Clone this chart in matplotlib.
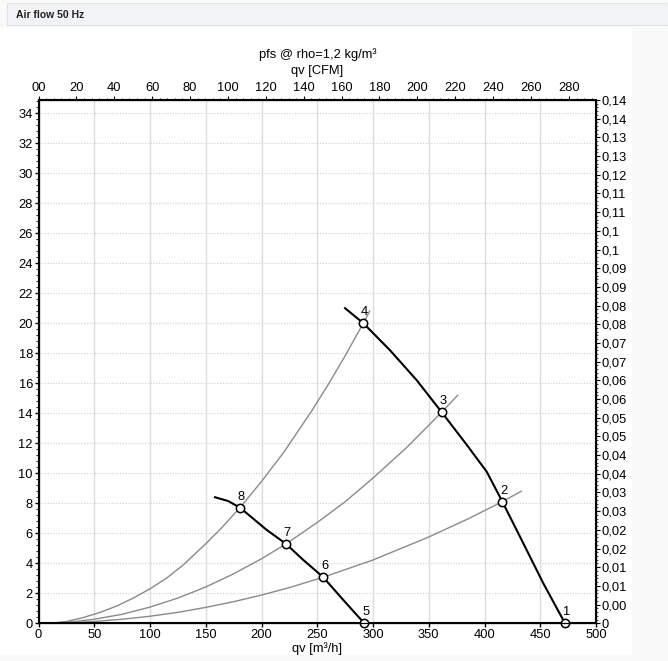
import matplotlib
matplotlib.use("Agg")
import matplotlib.pyplot as plt
from matplotlib.patches import Rectangle
from matplotlib.ticker import MultipleLocator, FixedLocator

plt.rcParams['font.family'] = ['Liberation Sans', 'DejaVu Sans']

# ---- data (qv in m3/h, pfs in Pa) ----
fan_high_x = [274.9, 291.3, 315.2, 339.2, 361.6, 384.0, 402.0, 416.0, 434.8, 452.7, 472.2]
fan_high_y = [21.0, 20.0, 18.2, 16.2, 14.07, 11.9, 10.1, 8.11, 5.33, 2.67, 0.0]
fan_low_x = [158.3, 170.0, 180.7, 204.7, 222.0, 237.5, 255.4, 273.4, 292.2]
fan_low_y = [8.4, 8.15, 7.71, 6.22, 5.29, 4.22, 3.07, 1.55, 0.0]

sys_a_x = [10, 25, 40, 55, 70, 85, 100, 115, 130, 150, 165, 180.7, 200, 220, 245, 260, 275, 291.3, 297]
sys_a_y = [0.0, 0.12, 0.38, 0.72, 1.15, 1.68, 2.3, 3.02, 3.9, 5.3, 6.42, 7.71, 9.45, 11.4, 14.15, 15.93, 17.82, 20.0, 20.8]
sys_b_x = [10, 30, 50, 75, 100, 125, 150, 175, 200, 222, 250, 275, 300, 330, 361.6, 376]
sys_b_y = [0.0, 0.1, 0.27, 0.6, 1.08, 1.68, 2.42, 3.3, 4.3, 5.29, 6.72, 8.1, 9.68, 11.7, 14.07, 15.2]
sys_c_x = [10, 30, 50, 75, 100, 125, 150, 175, 200, 225, 255.4, 300, 350, 385, 416, 433]
sys_c_y = [0.0, 0.05, 0.12, 0.27, 0.47, 0.73, 1.06, 1.44, 1.88, 2.38, 3.07, 4.22, 5.75, 6.95, 8.11, 8.8]

pt_labels = ['1', '2', '3', '4', '5', '6', '7', '8']
pt_x = [472.2, 416.0, 361.6, 291.3, 292.2, 255.4, 222.0, 180.7]
pt_y = [0.0, 8.11, 14.07, 20.0, 0.0, 3.07, 5.29, 7.71]

x_ticks = [0, 50, 100, 150, 200, 250, 300, 350, 400, 450, 500]
y_ticks = [0, 2, 4, 6, 8, 10, 12, 14, 16, 18, 20, 22, 24, 26, 28, 30, 32, 34]
cfm_ticks = [0, 20, 40, 60, 80, 100, 120, 140, 160, 180, 200, 220, 240, 260, 280]
cfm_labels = ['00', '20', '40', '60', '80', '100', '120', '140', '160', '180', '200',
              '220', '240', '260', '280']
inwg_labels = ['0', '0,00', '0,01', '0,01', '0,02', '0,02', '0,03', '0,03', '0,04', '0,04',
               '0,05', '0,05', '0,06', '0,06', '0,07', '0,07', '0,08', '0,08', '0,09', '0,09',
               '0,1', '0,1', '0,11', '0,11', '0,12', '0,13', '0,13', '0,14', '0,14']

M3H_PER_CFM = 1.699
PA_PER_INWG = 249.089
FS = 9.3

W, H = 668, 661
fig = plt.figure(figsize=(W / 100, H / 100), dpi=100)
fig.patch.set_facecolor('#f9f9f9')
fig.add_artist(Rectangle((0, 1 - 655 / H), 632 / W, (655 - 27) / H, transform=fig.transFigure,
                         facecolor='white', edgecolor='none', zorder=0))
fig.add_artist(Rectangle((7 / W, 1 - 25 / H), 1, 22 / H, transform=fig.transFigure,
                         facecolor='#f2f3f5', edgecolor='#c8c8c8', linestyle=(0, (1, 1)),
                         linewidth=0.6, zorder=1))
fig.text(16 / W, 1 - 15 / H, 'Air flow 50 Hz', fontsize=7.5, fontweight='bold',
         va='center', ha='left', color='#222222')

ax = fig.add_axes([38.5 / W, 1 - 623.3 / H, (596 - 38.5) / W, (623.3 - 100) / H])
ax.set_facecolor('white')
ymax = 0.14 * PA_PER_INWG
ax.set_xlim(0, 500)
ax.set_ylim(0, ymax)

for xv in x_ticks[1:-1]:
    ax.axvline(xv, color='#dcdcdc', lw=1.0, zorder=1)
for yv in y_ticks[1:]:
    ax.axhline(yv, color='#cfcfcf', lw=0.8, ls=(0, (1, 1.5)), zorder=1)

for sx, sy in [(sys_a_x, sys_a_y), (sys_b_x, sys_b_y), (sys_c_x, sys_c_y)]:
    ax.plot(sx, sy, color='#8a8a8a', lw=1.0, zorder=2, clip_on=False)
ax.plot(fan_high_x, fan_high_y, color='black', lw=1.5, zorder=3)
ax.plot(fan_low_x, fan_low_y, color='black', lw=1.5, zorder=3)
ax.plot(pt_x, pt_y, 'o', ms=6, mfc='white', mec='black', mew=1.1, zorder=4, clip_on=False)
for lab, px, py in zip(pt_labels, pt_x, pt_y):
    ax.annotate(lab, (px, py), xytext=(1, 3.5), textcoords='offset points', ha='center',
                va='bottom', fontsize=FS, zorder=5)

ax.set_xticks(x_ticks)
ax.set_yticks(y_ticks)
ax.yaxis.set_minor_locator(MultipleLocator(0.4))
ax.tick_params(axis='both', which='major', labelsize=FS, length=3, width=1, pad=1)
ax.tick_params(axis='y', which='minor', length=2, width=0.6)
ax.set_xlabel('qv [m³/h]', fontsize=FS, labelpad=1)
for s in ax.spines.values():
    s.set_linewidth(1.5)

axt = ax.twiny()
axt.set_xlim(0, 500 / M3H_PER_CFM)
axt.set_xticks(cfm_ticks)
axt.set_xticklabels(cfm_labels)
axt.xaxis.set_minor_locator(MultipleLocator(4))
axt.tick_params(axis='x', which='major', labelsize=FS, length=3, pad=1)
axt.tick_params(axis='x', which='minor', length=1.5, width=0.6)
axt.set_xlabel('qv [CFM]', fontsize=FS, labelpad=6)
axt.set_title('pfs @ rho=1,2 kg/m³', fontsize=FS, pad=5)

axr = ax.twinx()
axr.set_ylim(0, ymax)
inwg_pos = [i * 0.005 * PA_PER_INWG for i in range(len(inwg_labels))]
axr.yaxis.set_major_locator(FixedLocator(inwg_pos))
axr.set_yticklabels(inwg_labels)
axr.tick_params(axis='y', labelsize=FS, length=3, pad=1)
axr.yaxis.set_minor_locator(MultipleLocator(0.001 * PA_PER_INWG))
axr.tick_params(axis='y', which='minor', length=1.5, width=0.5)

fig.savefig('out.png', dpi=100, facecolor=fig.get_facecolor())
